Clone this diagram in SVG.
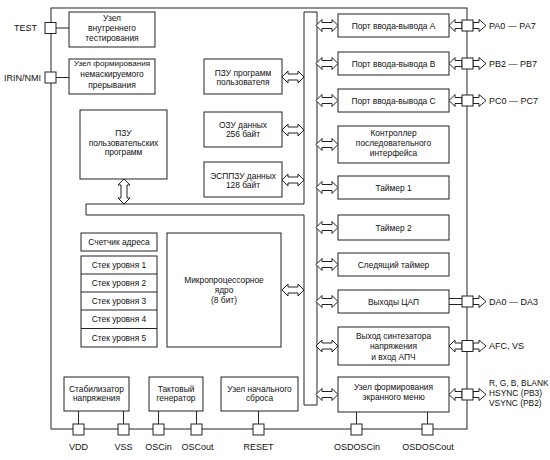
<svg xmlns="http://www.w3.org/2000/svg" xmlns:xlink="http://www.w3.org/1999/xlink" width="550" height="460" viewBox="0 0 550 460">
<style>
.b{fill:#fff;stroke:#222;stroke-width:1}
.ln{fill:none;stroke:#222;stroke-width:1}
text{font-family:"Liberation Sans",Arial,sans-serif;font-size:8.4px;fill:#111}
.c{text-anchor:middle}
.e{text-anchor:end}
.lb{font-size:9px}
.sm{font-size:8.1px}
</style>
<defs>
<path id="darr" d="M0,0 L6,-6 L6,-3 L16,-3 L16,-6 L22,0 L16,6 L16,3 L6,3 L6,6 Z" fill="#fff" stroke="#222" stroke-width="1"/>
<path id="larr" d="M0,0 L6,-6 L6,-3 L13,-3 L13,3 L6,3 L6,6 Z" fill="#fff" stroke="#222" stroke-width="1"/>
<path id="rarr" d="M0,-3 L6,-3 L6,-6 L13,0 L6,6 L6,3 L0,3 Z" fill="#fff" stroke="#222" stroke-width="1"/>
</defs>
<rect width="550" height="460" fill="#fff"/>

<g id="chip">
<rect class="ln" x="51" y="8" width="416" height="421"/>
</g>

<g id="bus">
<polygon class="b" points="304,12 317,12 317,405 304,405 304,215 86,215 86,204 304,204"/>
</g>

<g id="connectors">
<line class="ln" x1="56" y1="28" x2="69" y2="28"/>
<line class="ln" x1="56" y1="77.5" x2="69" y2="77.5"/>
<use href="#darr" x="282" y="77"/>
<use href="#darr" x="282" y="130"/>
<use href="#darr" x="282" y="180"/>
<use href="#darr" x="282" y="290"/>
<polygon points="124,179 130,185 127,185 127,198 130,198 124,204 118,198 121,198 121,185 118,185" fill="#fff" stroke="#222"/>
<use href="#darr" x="316" y="25.5"/>
<use href="#darr" x="316" y="63.5"/>
<use href="#darr" x="316" y="100.5"/>
<use href="#darr" x="316" y="144.5"/>
<use href="#darr" x="316" y="187.5"/>
<use href="#darr" x="316" y="227.5"/>
<use href="#darr" x="316" y="264.5"/>
<use href="#darr" x="316" y="301.5"/>
<use href="#darr" x="316" y="346"/>
<use href="#darr" x="316" y="394.5"/>
<use href="#larr" x="449" y="25.5"/>
<use href="#larr" x="449" y="63.5"/>
<use href="#larr" x="449" y="100.5"/>
<line class="ln" x1="449" y1="298.5" x2="462" y2="298.5"/>
<line class="ln" x1="449" y1="304.5" x2="462" y2="304.5"/>
<use href="#larr" x="449" y="346"/>
<use href="#larr" x="449" y="394.5"/>
<use href="#rarr" x="473" y="25.5"/>
<use href="#rarr" x="473" y="63.5"/>
<use href="#rarr" x="473" y="100.5"/>
<use href="#rarr" x="473" y="301.5"/>
<use href="#rarr" x="473" y="346"/>
<use href="#rarr" x="473" y="394.5"/>
<line class="ln" x1="78.5" y1="411" x2="78.5" y2="424"/>
<line class="ln" x1="123.5" y1="411" x2="123.5" y2="424"/>
<line class="ln" x1="158.5" y1="411" x2="158.5" y2="424"/>
<line class="ln" x1="196.5" y1="411" x2="196.5" y2="424"/>
<line class="ln" x1="258.5" y1="411" x2="258.5" y2="424"/>
<line class="ln" x1="356.5" y1="412" x2="356.5" y2="424"/>
<line class="ln" x1="427.5" y1="412" x2="427.5" y2="424"/>
</g>

<g id="pins">
<rect id="pin-test" class="b" x="45" y="22.5" width="11" height="11"/>
<rect id="pin-irin" class="b" x="45" y="72" width="11" height="11"/>
<rect id="pin-pa" class="b" x="462" y="20" width="11" height="11"/>
<rect id="pin-pb" class="b" x="462" y="58" width="11" height="11"/>
<rect id="pin-pc" class="b" x="462" y="95" width="11" height="11"/>
<rect id="pin-da" class="b" x="462" y="296" width="11" height="11"/>
<rect id="pin-afc" class="b" x="462" y="340.5" width="11" height="11"/>
<rect id="pin-osd" class="b" x="462" y="389" width="11" height="11"/>
<rect id="pin-vdd" class="b" x="73" y="424" width="11" height="11"/>
<rect id="pin-vss" class="b" x="118" y="424" width="11" height="11"/>
<rect id="pin-oscin" class="b" x="153" y="424" width="11" height="11"/>
<rect id="pin-oscout" class="b" x="191" y="424" width="11" height="11"/>
<rect id="pin-reset" class="b" x="253" y="424" width="11" height="11"/>
<rect id="pin-osdin" class="b" x="351" y="424" width="11" height="11"/>
<rect id="pin-osdout" class="b" x="422" y="424" width="11" height="11"/>
</g>

<g id="pin-labels">
<text class="e lb" x="37" y="31">TEST</text>
<text class="e lb" x="41" y="80.5">IRIN/NMI</text>
<text class="lb" x="489" y="28.5">PA0 — PA7</text>
<text class="lb" x="489" y="66.5">PB2 — PB7</text>
<text class="lb" x="489" y="103.5">PC0 — PC7</text>
<text class="lb" x="489" y="304.5">DA0 — DA3</text>
<text class="lb" x="489" y="349">AFC, VS</text>
<text x="489" y="386" font-size="8.6">R, G, B, BLANK</text>
<text x="489" y="396" font-size="8.6">HSYNC (PB3)</text>
<text x="489" y="406" font-size="8.6">VSYNC (PB2)</text>
<text class="c lb" x="78.5" y="450">VDD</text>
<text class="c lb" x="123.5" y="450">VSS</text>
<text class="c lb" x="158.5" y="450">OSCin</text>
<text class="c lb" x="197.5" y="450">OSCout</text>
<text class="c lb" x="258.5" y="450">RESET</text>
<text class="c lb" x="357" y="450">OSDOSCin</text>
<text class="c lb" x="428" y="450">OSDOSCout</text>
</g>

<g id="test-unit">
<rect class="b" x="69" y="12" width="86" height="35"/>
<text class="c" x="112" y="21">Узел</text>
<text class="c" x="112" y="31">внутреннего</text>
<text class="c" x="112" y="41">тестирования</text>
</g>
<g id="nmi-unit">
<rect class="b" x="69" y="59" width="86" height="35"/>
<text class="c sm" x="112" y="66">Узел формирования</text>
<text class="c" x="112" y="77">немаскируемого</text>
<text class="c" x="112" y="88">прерывания</text>
</g>
<g id="rom-user">
<rect class="b" x="80" y="110" width="87" height="69"/>
<text class="c" x="123.5" y="136">ПЗУ</text>
<text class="c" x="123.5" y="146">пользовательских</text>
<text class="c" x="123.5" y="155">программ</text>
</g>
<g id="rom-prog">
<rect class="b" x="204" y="59" width="78" height="35"/>
<text class="c" x="243" y="76">ПЗУ программ</text>
<text class="c" x="243" y="85">пользователя</text>
</g>
<g id="ram">
<rect class="b" x="204" y="112" width="78" height="35"/>
<text class="c" x="243" y="128">ОЗУ данных</text>
<text class="c" x="243" y="137">256 байт</text>
</g>
<g id="eeprom">
<rect class="b" x="204" y="162" width="78" height="35"/>
<text class="c" x="243" y="179">ЭСППЗУ данных</text>
<text class="c" x="243" y="188">128 байт</text>
</g>
<g id="port-a">
<rect class="b" x="338" y="14" width="111" height="23"/>
<text class="c" x="393.5" y="28.5">Порт ввода-вывода A</text>
</g>
<g id="port-b">
<rect class="b" x="338" y="52" width="111" height="23"/>
<text class="c" x="393.5" y="66.5">Порт ввода-вывода B</text>
</g>
<g id="port-c">
<rect class="b" x="338" y="89" width="111" height="23"/>
<text class="c" x="393.5" y="103.5">Порт ввода-вывода C</text>
</g>
<g id="serial">
<rect class="b" x="338" y="126" width="111" height="37"/>
<text class="c" x="393.5" y="136">Контроллер</text>
<text class="c" x="393.5" y="146">последовательного</text>
<text class="c" x="393.5" y="156">интерфейса</text>
</g>
<g id="timer1">
<rect class="b" x="338" y="176" width="111" height="23"/>
<text class="c" x="393.5" y="190.5">Таймер 1</text>
</g>
<g id="timer2">
<rect class="b" x="338" y="215" width="111" height="25"/>
<text class="c" x="393.5" y="230.5">Таймер 2</text>
</g>
<g id="watchdog">
<rect class="b" x="338" y="253" width="111" height="23"/>
<text class="c" x="393.5" y="267.5">Следящий таймер</text>
</g>
<g id="dac">
<rect class="b" x="338" y="290" width="111" height="23"/>
<text class="c" x="393.5" y="304.5">Выходы ЦАП</text>
</g>
<g id="synth">
<rect class="b" x="338" y="327" width="111" height="38"/>
<text class="c" x="393.5" y="339">Выход синтезатора</text>
<text class="c" x="393.5" y="349">напряжения</text>
<text class="c" x="393.5" y="360">и вход АПЧ</text>
</g>
<g id="osd">
<rect class="b" x="338" y="377" width="111" height="35"/>
<text class="c" x="393.5" y="390">Узел формирования</text>
<text class="c" x="393.5" y="400">экранного меню</text>
</g>
<g id="addr-counter">
<rect class="b" x="81" y="233" width="76" height="18"/>
<text class="c" x="119" y="245">Счетчик адреса</text>
</g>
<g id="stack">
<rect class="b" x="81" y="256" width="76" height="91"/>
<line class="ln" x1="81" y1="274" x2="157" y2="274"/>
<line class="ln" x1="81" y1="292" x2="157" y2="292"/>
<line class="ln" x1="81" y1="310" x2="157" y2="310"/>
<line class="ln" x1="81" y1="328.5" x2="157" y2="328.5"/>
<text class="c" x="119" y="268">Стек уровня 1</text>
<text class="c" x="119" y="286">Стек уровня 2</text>
<text class="c" x="119" y="304">Стек уровня 3</text>
<text class="c" x="119" y="322">Стек уровня 4</text>
<text class="c" x="119" y="341">Стек уровня 5</text>
</g>
<g id="core">
<rect class="b" x="167" y="233" width="114" height="114"/>
<text class="c" x="224" y="283">Микропроцессорное</text>
<text class="c" x="224" y="293">ядро</text>
<text class="c" x="224" y="303">(8 бит)</text>
</g>
<g id="regulator">
<rect class="b" x="64" y="377" width="65" height="34"/>
<text class="c" x="96.5" y="392">Стабилизатор</text>
<text class="c" x="96.5" y="401">напряжения</text>
</g>
<g id="clock">
<rect class="b" x="149" y="377" width="54" height="34"/>
<text class="c" x="176" y="392">Тактовый</text>
<text class="c" x="176" y="401">генератор</text>
</g>
<g id="reset-unit">
<rect class="b" x="221" y="377" width="77" height="34"/>
<text class="c" x="259.5" y="392">Узел начального</text>
<text class="c" x="259.5" y="401">сброса</text>
</g>
</svg>
